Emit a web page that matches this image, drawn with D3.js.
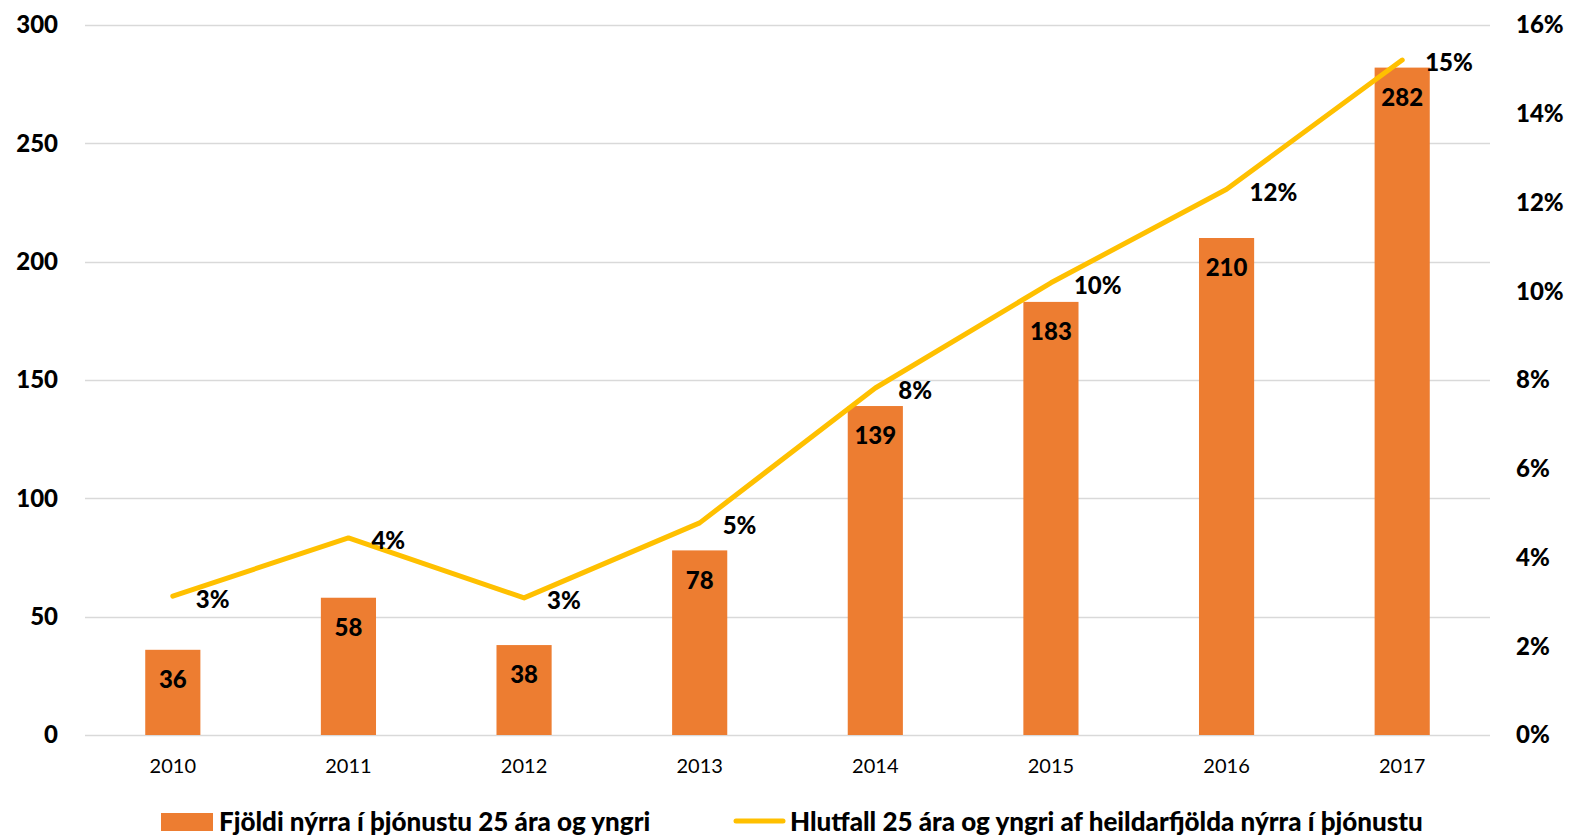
<!DOCTYPE html>
<html>
<head>
<meta charset="utf-8">
<script src="https://cdn.jsdelivr.net/npm/d3@7"></script>
<style>
  body { margin: 0; background: #fff; }
  text { font-family: Lato, "Open Sans", sans-serif; fill: #000; }
  .b { font-weight: 900; }
</style>
</head>
<body>
<div id="chart"></div>
<script>
// data
var years = ["2010", "2011", "2012", "2013", "2014", "2015", "2016", "2017"];
var counts = [36, 58, 38, 78, 139, 183, 210, 282];
var shares = [3.13, 4.44, 3.09, 4.78, 7.82, 10.19, 12.3, 15.21];
var leftTicks = [0, 50, 100, 150, 200, 250, 300];
var rightTicks = [0, 2, 4, 6, 8, 10, 12, 14, 16];
var barName = "Fjöldi nýrra í þjónustu 25 ára og yngri";
var lineName = "Hlutfall 25 ára og yngri af heildarfjölda nýrra í þjónustu";

var width = 1569, height = 837,
    margin = {top: 25, right: 79, bottom: 102, left: 85},
    innerW = width - margin.left - margin.right,
    innerH = height - margin.top - margin.bottom;

var svg = d3.select("#chart").append("svg")
    .attr("width", width)
    .attr("height", height);

var g = svg.append("g")
    .attr("transform", "translate(" + margin.left + "," + margin.top + ")");

var x = d3.scaleBand().domain(years).range([0, innerW]).paddingInner(0.686).paddingOuter(0.343);
var y = d3.scaleLinear().domain([0, 300]).range([innerH, 0]);
var y2 = d3.scaleLinear().domain([0, 16]).range([innerH, 0]);

// gridlines
g.append("g")
  .selectAll("line")
    .data(leftTicks)
    .enter().append("line")
    .attr("x1", 0).attr("x2", innerW)
    .attr("y1", function(d) { return Math.round(y(d)) + 0.5; })
    .attr("y2", function(d) { return Math.round(y(d)) + 0.5; })
    .attr("stroke", "#d9d9d9")
    .attr("stroke-width", 1.5);

// left axis labels
g.append("g")
  .selectAll("text")
    .data(leftTicks)
    .enter().append("text")
    .attr("class", "b")
    .attr("x", -27)
    .attr("y", function(d) { return y(d); })
    .attr("dy", "0.35em")
    .attr("text-anchor", "end")
    .style("font-size", "24px")
    .text(function(d) { return d; });

// right axis labels
g.append("g")
  .selectAll("text")
    .data(rightTicks)
    .enter().append("text")
    .attr("class", "b")
    .attr("x", innerW + 26)
    .attr("y", function(d) { return y2(d); })
    .attr("dy", "0.35em")
    .style("font-size", "24px")
    .text(function(d) { return d + "%"; });

// year labels
g.append("g")
  .selectAll("text")
    .data(years)
    .enter().append("text")
    .attr("x", function(d) { return x(d) + x.bandwidth() / 2; })
    .attr("y", innerH + 31)
    .attr("dy", "0.35em")
    .attr("text-anchor", "middle")
    .style("font-size", "20px")
    .text(function(d) { return d; });

// bars
g.append("g")
  .selectAll("rect")
    .data(counts)
    .enter().append("rect")
    .attr("x", function(d, i) { return x(years[i]); })
    .attr("y", function(d) { return y(d); })
    .attr("width", x.bandwidth())
    .attr("height", function(d) { return innerH - y(d); })
    .attr("fill", "#ED7D31");

g.append("g")
  .selectAll("text")
    .data(counts)
    .enter().append("text")
    .attr("class", "b")
    .attr("x", function(d, i) { return x(years[i]) + x.bandwidth() / 2; })
    .attr("y", function(d) { return y(d) + 30; })
    .attr("dy", "0.35em")
    .attr("text-anchor", "middle")
    .style("font-size", "24px")
    .text(function(d) { return d; });

// line
var line = d3.line()
    .x(function(d, i) { return x(years[i]) + x.bandwidth() / 2; })
    .y(function(d) { return y2(d); });

g.append("path")
    .datum(shares)
    .attr("d", line)
    .attr("fill", "none")
    .attr("stroke", "#FFC000")
    .attr("stroke-width", 5)
    .attr("stroke-linecap", "round")
    .attr("stroke-linejoin", "round");

g.append("g")
  .selectAll("text")
    .data(shares)
    .enter().append("text")
    .attr("class", "b")
    .attr("x", function(d, i) { return x(years[i]) + x.bandwidth() / 2 + 23; })
    .attr("y", function(d) { return y2(d) + 3; })
    .attr("dy", "0.35em")
    .style("font-size", "24px")
    .text(function(d) { return Math.round(d) + "%"; });

// legend
var leg = svg.append("g");
leg.append("rect")
    .attr("x", 161).attr("y", 813)
    .attr("width", 52).attr("height", 18)
    .attr("fill", "#ED7D31");
leg.append("text")
    .attr("class", "b")
    .attr("x", 219).attr("y", 822)
    .attr("dy", "0.35em")
    .style("font-size", "26px")
    .text(barName);
leg.append("line")
    .attr("x1", 736).attr("x2", 783)
    .attr("y1", 821).attr("y2", 821)
    .attr("stroke", "#FFC000")
    .attr("stroke-width", 5)
    .attr("stroke-linecap", "round");
leg.append("text")
    .attr("class", "b")
    .attr("x", 790).attr("y", 822)
    .attr("dy", "0.35em")
    .style("font-size", "26px")
    .text(lineName);
</script>
</body>
</html>
